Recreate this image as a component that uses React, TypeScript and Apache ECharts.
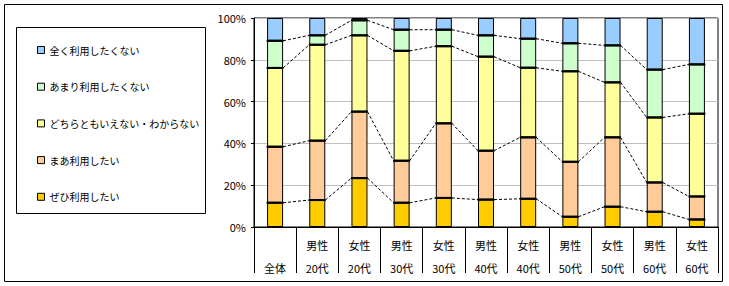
import React, { useEffect, useRef } from "react";
import * as echarts from "echarts";

const categories = ["\n全体", "男性\n20代", "女性\n20代", "男性\n30代", "女性\n30代", "男性\n40代", "女性\n40代", "男性\n50代", "女性\n50代", "男性\n60代", "女性\n60代"];
const seriesNames = ["ぜひ利用したい", "まあ利用したい", "どちらともいえない・わからない", "あまり利用したくない", "全く利用したくない"];
const zehi = [11.6, 12.9, 23.4, 11.6, 13.9, 13.1, 13.5, 4.9, 9.7, 7.3, 3.6];
const maa = [26.8, 28.4, 31.8, 20.1, 35.7, 23.4, 29.4, 26.3, 33.2, 14.0, 11.0];
const dochira = [37.7, 45.9, 36.5, 52.6, 36.9, 45.0, 33.3, 43.3, 26.3, 31.1, 39.6];
const amari = [13.0, 4.5, 7.2, 10.1, 7.9, 10.2, 13.9, 13.4, 17.7, 22.9, 23.6];
const mattaku = [10.9, 8.3, 1.1, 5.6, 5.6, 8.3, 9.9, 12.1, 13.1, 24.7, 22.2];
const colors = ["#FFCC00", "#FFCC99", "#FFFF99", "#CCFFCC", "#99CCFF"];
const yTicks = [0, 20, 40, 60, 80, 100];

const FONT = "'Noto Sans CJK JP', sans-serif";

export default function App() {
  const ref = useRef<HTMLDivElement>(null);
  useEffect(() => {
    document.body.style.margin = "0";
    const chart = echarts.init(ref.current!, null, { renderer: "svg" });
    const values = [zehi, maa, dochira, amari, mattaku];
    const cum: number[][] = categories.map((_, i) => {
      const out: number[] = [];
      let s = 0;
      for (let k = 0; k < 4; k++) {
        s += values[k][i];
        out.push(s);
      }
      return out;
    });
    const connData: number[][] = [];
    for (let i = 0; i < categories.length - 1; i++) {
      connData.push([i, ...cum[i], ...cum[i + 1]]);
    }
    const sepData: number[][] = cum.map((c, i) => [i, ...c]);
    const barW = 16;
    chart.setOption({
      animation: false,
      textStyle: { fontFamily: FONT },
      graphic: [
        { type: "rect", shape: { x: 4.5, y: 4.5, width: 718, height: 277 }, style: { fill: "none", stroke: "#000", lineWidth: 1 }, z: -1 },
        { type: "rect", shape: { x: 16.5, y: 27.5, width: 189, height: 186 }, style: { fill: "#fff", stroke: "#000", lineWidth: 1 }, z: -1 },
      ],
      legend: {
        orient: "vertical",
        left: 32,
        top: 39,
        itemWidth: 7,
        itemHeight: 7,
        itemGap: 24.7,
        icon: "rect",
        data: [...seriesNames].reverse(),
        textStyle: { fontSize: 10, lineHeight: 12, color: "#000", fontFamily: FONT },
        itemStyle: { borderColor: "#000", borderWidth: 1 },
      },
      grid: { left: 254, top: 18, width: 464, height: 209, show: true, borderColor: "#000", borderWidth: 1, backgroundColor: "#fff" },
      xAxis: {
        type: "category",
        data: categories,
        axisLine: { lineStyle: { color: "#000", width: 1 } },
        axisTick: { show: true, interval: 0, length: 46, lineStyle: { color: "#000" } },
        axisLabel: { interval: 0, color: "#000", fontSize: 11, lineHeight: 23, margin: 6, fontFamily: FONT },
      },
      yAxis: {
        type: "value",
        min: 0,
        max: 100,
        interval: 20,
        axisLine: { show: true, lineStyle: { color: "#000" } },
        axisTick: { show: true, length: 3, lineStyle: { color: "#000" } },
        axisLabel: { formatter: (v: number) => (yTicks.includes(v) ? v + "%" : ""), color: "#000", fontSize: 11, margin: 8, fontFamily: FONT },
        splitLine: { show: true, lineStyle: { color: "#C0C0C0", width: 1 } },
      },
      series: [
        ...seriesNames.map((name, k) => ({
          name,
          type: "bar",
          stack: "total",
          barWidth: barW,
          data: values[k],
          itemStyle: { color: colors[k], borderColor: "#000", borderWidth: 1 },
        })),
        {
          type: "custom",
          name: "connectors",
          silent: true,
          z: 1,
          data: connData,
          encode: { x: 0, y: [1, 2, 3, 4] },
          renderItem: (_params: any, api: any) => {
            const i = api.value(0);
            const children: any[] = [];
            for (let k = 0; k < 4; k++) {
              const a = api.coord([i, api.value(1 + k)]);
              const b = api.coord([i + 1, api.value(5 + k)]);
              children.push({
                type: "line",
                shape: { x1: a[0] + barW / 2, y1: a[1], x2: b[0] - barW / 2, y2: b[1] },
                style: { stroke: "#000", lineWidth: 1, lineDash: [3, 2] },
              });
            }
            return { type: "group", children };
          },
        },
        {
          type: "custom",
          name: "separators",
          silent: true,
          z: 5,
          data: sepData,
          encode: { x: 0, y: [1, 2, 3, 4] },
          renderItem: (_params: any, api: any) => {
            const i = api.value(0);
            const children: any[] = [];
            for (let k = 0; k < 4; k++) {
              const a = api.coord([i, api.value(1 + k)]);
              children.push({
                type: "line",
                shape: { x1: a[0] - barW / 2 - 0.5, y1: a[1], x2: a[0] + barW / 2 + 0.5, y2: a[1] },
                style: { stroke: "#000", lineWidth: 2 },
              });
            }
            return { type: "group", children };
          },
        },
      ],
    });
    return () => chart.dispose();
  }, []);
  return <div ref={ref} style={{ width: 729, height: 286 }} />;
}
